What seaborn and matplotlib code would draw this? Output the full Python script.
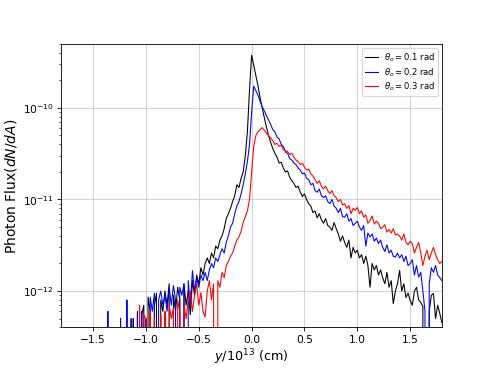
import numpy as np
import pandas as pd
import matplotlib
matplotlib.use("Agg")
import matplotlib.pyplot as plt
import seaborn as sns

# bin centres (y / 1e13 cm): from -1.80 to 1.80 in steps of 0.02
bin_start = -1.80
bin_step = 0.02
n_bins = 181
y_pos = np.round(bin_start + bin_step * np.arange(n_bins), 2)

unit = 1e-12  # values below are in units of 1e-12

flux_01 = [
    0, 0, 0, 0, 0, 0, 0, 0, 0, 0,
    0, 0, 0, 0, 0, 0, 0, 0, 0, 0,
    0, 0, 0, 0, 0, 0, 0, 0, 0, 0,
    0, 0, 0, 0, 0.5, 0, 0.6, 0, 0.55, 0.7,
    0, 0.86, 0.6, 0, 0.7, 0.95, 0, 0.8, 0.6, 1.0,
    0.7, 1.2, 0, 0.9, 0.6, 1.1, 0.8, 0, 1.2, 0.7,
    1.0, 0.55, 1.3, 0.9, 1.5, 1.2, 1.8, 1.5, 2.0, 2.3,
    2.0, 2.6, 2.3, 3.1, 2.9, 3.6, 4.0, 4.8, 6.2, 7.0,
    8.0, 9.5, 11.0, 14.5, 13.5, 17, 20, 30, 55, 160,
    377, 290, 225, 175, 130, 100, 78, 62, 50, 42,
    36, 32, 29, 25, 25.5, 22, 20, 20.5, 17.5, 16,
    15, 13.5, 14, 12, 10.8, 11.5, 10, 9.0, 8.5, 7.2,
    7.5, 6.3, 7.0, 6.0, 5.5, 6.2, 5.2, 5.0, 4.6, 5.6,
    4.8, 4.2, 3.5, 4.0, 3.4, 3.0, 3.6, 2.3, 3.0, 2.6,
    2.8, 2.3, 2.5, 2.0, 2.4, 1.9, 1.1, 2.0, 1.7, 1.9,
    1.5, 1.7, 1.4, 1.2, 1.6, 1.1, 1.3, 0.73, 1.0, 1.2,
    1.68, 1.0, 1.2, 0.85, 0.95, 0.79, 0.7, 1.0, 1.1, 0.8,
    0.75, 0.68, 0, 0, 0.6, 0.9, 0.94, 0.5, 0.7, 0.57, 0.45,
]

flux_02 = [
    0, 0, 0, 0, 0, 0, 0, 0, 0, 0,
    0, 0, 0, 0, 0, 0, 0, 0, 0, 0,
    0, 0, 0.6, 0, 0, 0, 0, 0, 0.5, 0,
    0, 0.8, 0, 0.5, 0, 0, 0.55, 0, 0.6, 0,
    0.5, 0, 0.86, 0.6, 0.95, 0, 0.8, 1.0, 0.7, 0.9,
    0.6, 1.1, 0.7, 1.15, 0.8, 0, 1.1, 0.9, 1.2, 0,
    1.3, 0.7, 1.67, 1.0, 1.4, 1.1, 1.5, 1.3, 1.6, 1.3,
    1.7, 2.0, 1.8, 2.3, 2.1, 2.5, 2.9, 2.6, 3.4, 4.0,
    5.0, 5.5, 7.0, 8.5, 9.5, 11.5, 14.5, 19, 26, 40,
    90, 173, 155, 138, 118, 103, 93, 82, 74, 66,
    58, 55, 48, 46, 40, 38, 33, 32, 28, 27,
    25, 24, 22, 21, 19, 19.5, 17, 16.5, 14.5, 15,
    12.5, 12, 13, 11, 10.5, 11, 9.5, 9.0, 10, 8.5,
    8.0, 7.2, 8.0, 6.5, 6.4, 7.0, 5.8, 6.2, 5.2, 5.5,
    5.8, 5.0, 4.6, 5.2, 3.1, 4.3, 3.9, 4.2, 3.5, 3.8,
    3.3, 3.6, 3.0, 2.7, 3.2, 2.6, 2.8, 2.4, 2.35, 2.6,
    2.3, 2.5, 2.1, 2.4, 1.9, 2.0, 2.2, 1.5, 1.9, 1.42,
    1.6, 1.0, 0.6, 0, 1.2, 1.8, 1.6, 1.9, 1.5, 1.4, 1.3,
]

flux_03 = [
    0, 0, 0, 0, 0, 0, 0, 0, 0, 0,
    0, 0, 0, 0, 0, 0, 0, 0, 0, 0,
    0, 0, 0, 0, 0, 0, 0, 0, 0, 0,
    0, 0, 0, 0, 0, 0, 0, 0.7, 0, 0.55,
    0.5, 0, 0.6, 0, 0.5, 0, 0, 0.55, 0, 0.6,
    0, 0.7, 0.5, 0.65, 0, 0.8, 0.6, 0, 0.7, 0.5,
    0.8, 1.0, 0.6, 0.9, 1.2, 0.7, 0.96, 0.6, 0.52, 1.0,
    1.3, 0.8, 1.2, 0, 1.3, 1.1, 1.6, 1.4, 1.9, 2.1,
    2.4, 2.6, 3.1, 3.6, 3.9, 4.5, 5.6, 6.5, 7.5, 10,
    20, 38, 50, 55, 58, 61, 57, 53, 50, 47,
    44, 40, 41, 38, 39, 35, 34, 33.5, 31, 32,
    29, 27, 26, 24, 25, 22.5, 21, 21.5, 19, 18,
    16.5, 15, 16, 14, 13, 14, 12.5, 11.6, 12.5, 11,
    10.5, 9.5, 10, 8.7, 9.0, 8.0, 8.6, 7.0, 8.0, 7.6,
    8.2, 7.0, 7.5, 6.4, 6.8, 5.5, 5.9, 6.6, 5.4, 5.8,
    5.5, 4.8, 5.0, 5.3, 4.4, 4.7, 4.3, 4.8, 4.1, 4.2,
    4.0, 3.6, 4.2, 3.4, 3.2, 3.5, 3.3, 2.6, 3.0, 3.4,
    2.6, 1.9, 2.4, 2.8, 2.2, 2.6, 3.0, 2.5, 2.2, 2.0, 2.1,
]

labels = [r"$\theta_o = 0.1$ rad", r"$\theta_o = 0.2$ rad", r"$\theta_o = 0.3$ rad"]
colors = ["black", "blue", "red"]
series = [flux_01, flux_02, flux_03]

x_ticks = [-1.5, -1.0, -0.5, 0.0, 0.5, 1.0, 1.5]

fig, ax = plt.subplots(figsize=(6.4, 4.8), dpi=491 / 6.4)

for vals, lbl, col in zip(series, labels, colors):
    sns.lineplot(x=y_pos, y=np.array(vals) * unit, color=col, label=lbl,
                 linewidth=1.0, estimator=None, sort=False, ax=ax)

ax.set_yscale("log")
ax.set_xlim(-1.8, 1.8)
ax.set_ylim(4e-13, 5e-10)
ax.set_xticks(x_ticks)
ax.grid(True, which="major", color="#d3d3d3", linewidth=1.0)
ax.set_axisbelow(True)
ax.tick_params(labelsize=10)
ax.set_xlabel(r"$y/10^{13}$ (cm)", fontsize=12, labelpad=2)
ax.set_ylabel(r"Photon Flux($dN/dA$)", fontsize=13)
ax.legend(loc="upper right", fontsize=8, labelspacing=0.25,
          handlelength=1.6, borderpad=0.35, handletextpad=0.6)

fig.savefig("out.png", dpi=491 / 6.4)
